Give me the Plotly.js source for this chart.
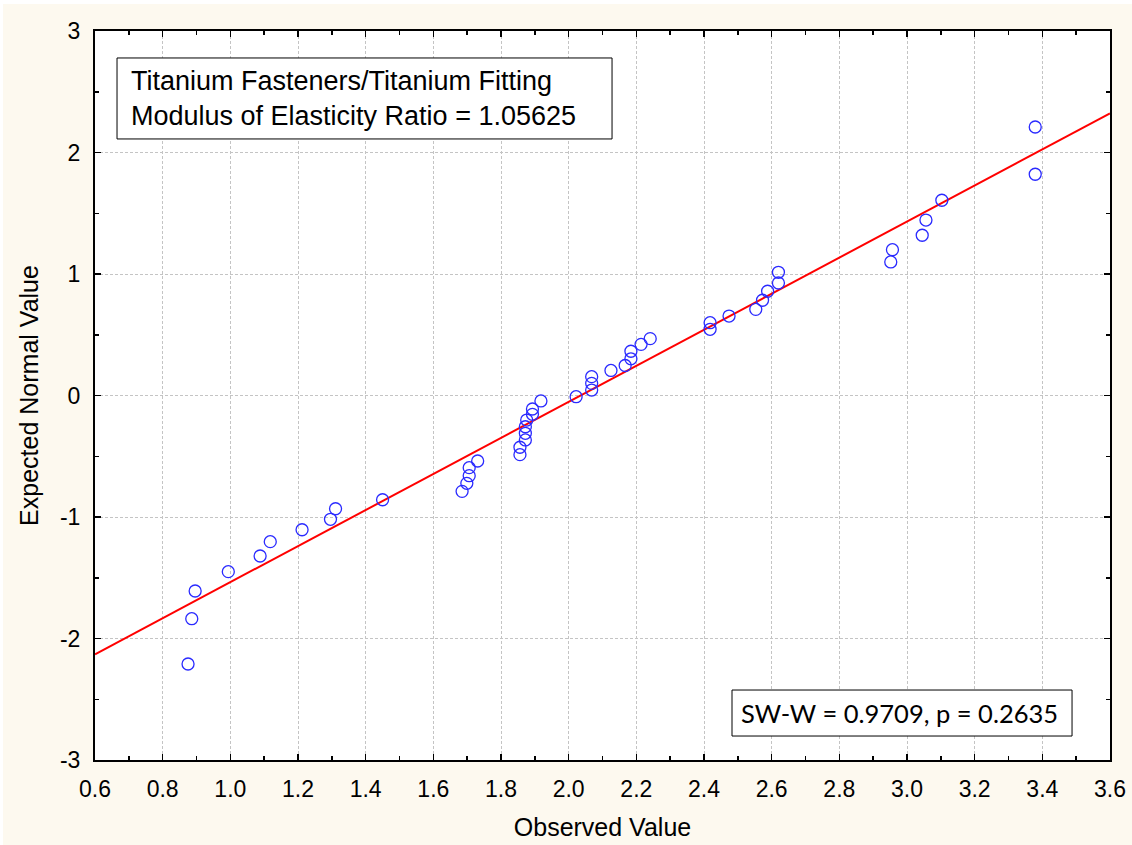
<!DOCTYPE html>
<html>
<head>
<meta charset="utf-8">
<script src="https://cdn.plot.ly/plotly-3.0.1.min.js"></script>
<style>
html, body { margin:0; padding:0; background:#ffffff; }
#chart { position:absolute; left:3px; top:4px; width:1129px; height:841px; }
</style>
</head>
<body>
<div id="chart"></div>
<script>
// Observed values (x) and expected normal values (y)
const observed = [0.875, 0.886, 0.896, 0.994, 1.088, 1.118, 1.212, 1.296, 1.311, 1.450,
  1.685, 1.699, 1.706, 1.706, 1.731, 1.856, 1.856, 1.872, 1.872, 1.872, 1.876, 1.893, 1.893, 1.918,
  2.022, 2.068, 2.068, 2.068, 2.125, 2.167, 2.184, 2.184, 2.214, 2.241,
  2.418, 2.418, 2.474, 2.553, 2.573, 2.588, 2.620, 2.620,
  2.952, 2.957, 3.045, 3.056, 3.103, 3.379, 3.379];
const expectedNormal = [-2.210, -1.837, -1.609, -1.450, -1.321, -1.203, -1.105, -1.019, -0.932, -0.858,
  -0.789, -0.723, -0.660, -0.594, -0.539, -0.487, -0.426, -0.366, -0.311, -0.257, -0.202, -0.155, -0.111, -0.045,
  -0.010, 0.045, 0.100, 0.155, 0.206, 0.247, 0.302, 0.364, 0.421, 0.468,
  0.545, 0.599, 0.654, 0.709, 0.784, 0.858, 0.926, 1.014,
  1.099, 1.200, 1.319, 1.444, 1.607, 1.821, 2.210];

// Fitted reference line endpoints
const fitX = [0.6, 3.6];
const fitY = [-2.130, 2.322];

// Tick labels
const xTickVals = [0.6, 0.8, 1.0, 1.2, 1.4, 1.6, 1.8, 2.0, 2.2, 2.4, 2.6, 2.8, 3.0, 3.2, 3.4, 3.6];
const xTickText = ["0.6","0.8","1.0","1.2","1.4","1.6","1.8","2.0","2.2","2.4","2.6","2.8","3.0","3.2","3.4","3.6"];
const yTickVals = [3, 2, 1, 0, -1, -2, -3];
const yTickText = ["3","2","1","0","-1","-2","-3"];

const titleText = "Titanium Fasteners/Titanium Fitting<br>Modulus of Elasticity Ratio = 1.05625";
const statText = "SW-W = 0.9709, p = 0.2635";

const SANS = "Arial, 'Liberation Sans', sans-serif";

const traces = [
  {
    x: fitX, y: fitY, mode: 'lines', type: 'scatter',
    line: { color: '#ff0000', width: 2 }, hoverinfo: 'skip'
  },
  {
    x: observed, y: expectedNormal, mode: 'markers', type: 'scatter',
    marker: { symbol: 'circle-open', size: 12, color: '#2a2aff', line: { width: 1.3, color: '#2a2aff' } }
  }
];

const axisCommon = {
  showline: true, linecolor: '#000000', linewidth: 2, mirror: 'ticks',
  ticks: 'inside', ticklen: 6, tickwidth: 1.5, tickcolor: '#000000',
  showgrid: true, gridcolor: '#c4c4c4', gridwidth: 1, griddash: '3px,2px',
  zeroline: false,
  tickfont: { family: SANS, size: 23, color: '#000000' }
};

const layout = {
  width: 1129, height: 841,
  paper_bgcolor: '#fdf9ef', plot_bgcolor: '#ffffff',
  margin: { l: 92, r: 22, t: 27, b: 85 },
  showlegend: false,
  xaxis: Object.assign({}, axisCommon, {
    range: [0.6, 3.6], tickmode: 'array', tickvals: xTickVals, ticktext: xTickText,
    ticklabelstandoff: 7,
    minor: { tick0: 0.6, dtick: 0.1, ticks: 'inside', ticklen: 4, tickcolor: '#000000', tickwidth: 1.5, showgrid: false },
    title: { text: 'Observed Value', standoff: 18, font: { family: SANS, size: 25, color: '#000000' } }
  }),
  yaxis: Object.assign({}, axisCommon, {
    range: [-3, 3], tickmode: 'array', tickvals: yTickVals, ticktext: yTickText,
    ticklabelstandoff: 8,
    minor: { tick0: 0, dtick: 0.5, ticks: 'inside', ticklen: 4, tickcolor: '#000000', tickwidth: 1.5, showgrid: false },
    title: { text: 'Expected Normal Value', standoff: 14, font: { family: SANS, size: 25, color: '#000000' } }
  }),
  shapes: [
    { type: 'rect', xref: 'paper', yref: 'paper', x0: 0.0217, x1: 0.5094, y0: 0.8519, y1: 0.963,
      line: { color: '#000000', width: 1 }, fillcolor: '#ffffff', layer: 'above' },
    { type: 'rect', xref: 'paper', yref: 'paper', x0: 0.6276, x1: 0.9626, y0: 0.0329, y1: 0.096,
      line: { color: '#000000', width: 1 }, fillcolor: '#ffffff', layer: 'above' }
  ],
  annotations: [
    { xref: 'paper', yref: 'paper', x: 0.0335, y: 0.9074, xanchor: 'left', yanchor: 'middle',
      text: titleText, showarrow: false, align: 'left',
      font: { family: SANS, size: 27, color: '#000000' } },
    { xref: 'paper', yref: 'paper', x: 0.793, y: 0.0645, xanchor: 'center', yanchor: 'middle',
      text: statText, showarrow: false,
      font: { family: "Lato, 'Open Sans', sans-serif", size: 25.5, color: '#000000' } }
  ]
};

Plotly.newPlot('chart', traces, layout, { displayModeBar: false, staticPlot: true });
</script>
</body>
</html>
